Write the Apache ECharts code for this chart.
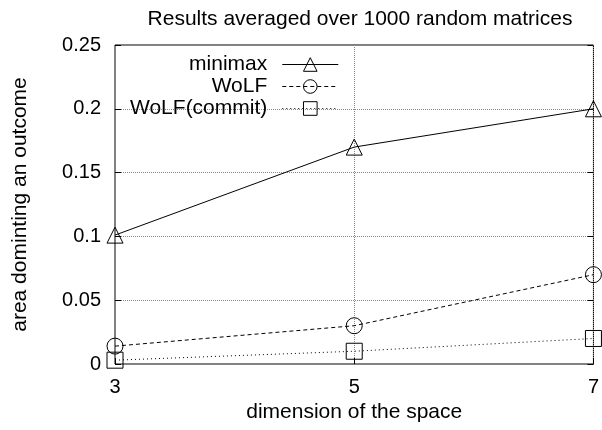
<!DOCTYPE html>
<html>
<head>
<meta charset="utf-8">
<script src="https://cdn.jsdelivr.net/npm/echarts@6/dist/echarts.min.js"></script>
<style>
  html, body { margin: 0; padding: 0; background: #fff; }
  #chart { width: 602px; height: 430px; }
</style>
</head>
<body>
<div id="chart"></div>
<script>
// data
const dims = ['3', '5', '7'];
const minimax = [0.101, 0.170, 0.200];
const wolf = [0.014, 0.030, 0.070];
const wolfCommit = [0.003, 0.010, 0.020];

const font = 'Liberation Sans, Arial, sans-serif';
let myChart = echarts.init(document.getElementById('chart'));

function makeSeries (name, data, symbol, lineType) {
  return {
    name: name,
    type: 'line',
    data: data,
    symbol: symbol,
    symbolSize: 16,
    showAllSymbol: true,
    lineStyle: { color: '#000', width: 1, type: lineType },
    itemStyle: { color: 'rgba(0,0,0,0)', borderColor: '#000', borderWidth: 1 },
    emphasis: { disabled: true },
    animation: false
  };
}

myChart.setOption({
  backgroundColor: '#fff',
  title: {
    text: 'Results averaged over 1000 random matrices',
    left: 355,
    top: 4,
    textAlign: 'center',
    textStyle: { fontFamily: font, fontSize: 21, fontWeight: 'normal', color: '#000' }
  },
  legend: {
    orient: 'vertical',
    left: 125,
    top: 49,
    align: 'right',
    itemWidth: 56,
    itemHeight: 17,
    itemGap: 1,
    data: ['minimax', 'WoLF', 'WoLF(commit)'],
    lineStyle: { width: 1 },
    itemStyle: { borderWidth: 1 },
    textStyle: {
      fontFamily: font, fontSize: 21, color: '#000',
      align: 'right', padding: [0, 10, 0, 0]
    },
    selectedMode: false
  },
  grid: {
    left: 115, right: 6, top: 45, bottom: 66,
    show: true, borderColor: '#000', borderWidth: 1
  },
  xAxis: {
    type: 'category',
    data: dims,
    boundaryGap: false,
    name: 'dimension of the space',
    nameLocation: 'middle',
    nameGap: 36,
    nameTextStyle: { fontFamily: font, fontSize: 21, color: '#000' },
    axisLine: { show: false },
    axisTick: { inside: true, length: 6, lineStyle: { color: '#000' } },
    axisLabel: { fontFamily: font, fontSize: 20, color: '#000', margin: 13 },
    splitLine: { show: true, lineStyle: { color: '#888', type: 'dotted' } }
  },
  yAxis: [{
    type: 'value',
    min: 0,
    max: 0.25,
    interval: 0.05,
    name: 'area dominting an outcome',
    nameLocation: 'middle',
    nameGap: 84,
    nameTextStyle: { fontFamily: font, fontSize: 21, color: '#000' },
    axisLine: { show: false },
    axisTick: { show: true, inside: true, length: 6, lineStyle: { color: '#000' } },
    axisLabel: { fontFamily: font, fontSize: 20, color: '#000', margin: 14 },
    splitLine: { show: true, lineStyle: { color: '#888', type: 'dotted' } }
  }, {
    type: 'value',
    position: 'right',
    min: 0,
    max: 0.25,
    interval: 0.05,
    axisLine: { show: false },
    axisTick: { show: true, inside: true, length: 6, lineStyle: { color: '#000' } },
    axisLabel: { show: false },
    splitLine: { show: false }
  }],
  series: [
    makeSeries('minimax', minimax, 'triangle', 'solid'),
    makeSeries('WoLF', wolf, 'circle', [4, 3]),
    makeSeries('WoLF(commit)', wolfCommit, 'rect', [1, 3])
  ]
});
window.addEventListener('resize', function () {
  myChart.resize();
});
</script>
</body>
</html>
